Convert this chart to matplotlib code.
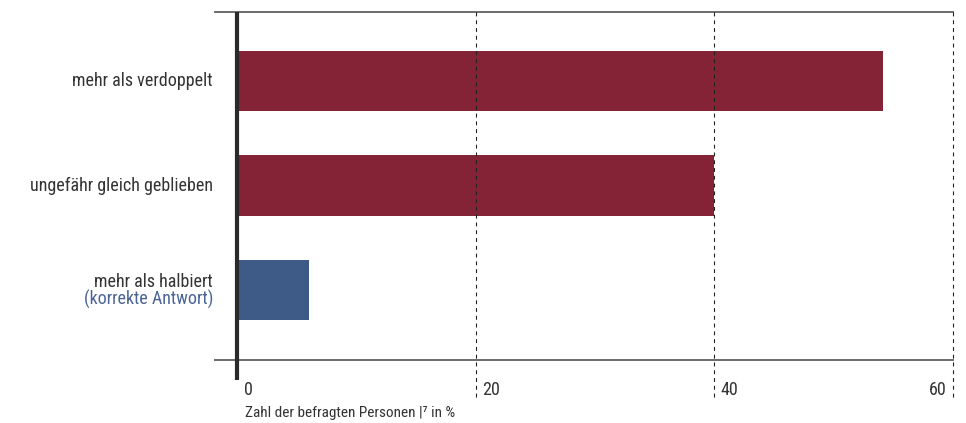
import matplotlib
matplotlib.use("Agg")
import matplotlib.pyplot as plt
from matplotlib import font_manager as fm

categories = ["mehr als verdoppelt", "ungefähr gleich geblieben", "mehr als halbiert"]
values = [54.1, 40.0, 6.0]
colors = ["#842236", "#842236", "#3e5a87"]
xticks = [0, 20, 40, 60]
xlabel = "Zahl der befragten Personen |⁷ in %"
note = "(korrekte Antwort)"

names = {f.name for f in fm.fontManager.ttflist}
fam = "DejaVu Sans"
stretch = "condensed"
for cand in ["Roboto Condensed", "Liberation Sans Narrow"]:
    if cand in names:
        fam = cand
        stretch = "normal"
        break
plt.rcParams["font.family"] = [fam, "DejaVu Sans"]
plt.rcParams["font.stretch"] = stretch

FS = 13
W, H = 966, 423
fig = plt.figure(figsize=(W / 100, H / 100), dpi=100)
L, R, T, B = 237, 953, 12, 360
ax = fig.add_axes([L / W, 1 - B / H, (R - L) / W, (B - T) / H])

pos = [2, 1, 0]
ax.barh(pos, values, height=0.58, color=colors, zorder=2)
ax.set_xlim(0, 60)
ax.set_ylim(-0.67, 2.66)
for s in ax.spines.values():
    s.set_visible(False)
ax.set_xticks([])
ax.set_yticks([])

tc = "#333333"
axw = R - L
axh = B - T
def ax_x(px):
    return (px - L) / axw
def ax_y(py):
    return (B - py) / axh

# top & bottom lines
for yv in [1, 0]:
    ax.plot([ax_x(215), 1.0], [yv, yv], transform=ax.transAxes, color="#6b6b6b",
            lw=1.4, clip_on=False, zorder=3)
# gridlines
for t in xticks[1:]:
    ax.plot([t, t], [1, ax_y(400)], color="#222222",
            lw=0.8, ls=(0, (3.5, 3.5)), clip_on=False, zorder=4,
            transform=ax.get_xaxis_transform())
# left spine
ax.plot([0, 0], [1, ax_y(380)], transform=ax.transAxes, color="#2a2a2a", lw=3,
        clip_on=False, zorder=5, solid_capstyle="butt")

# tick labels
for t in xticks:
    if t == xticks[-1]:
        ax.text(t - 0.55, ax_y(390), str(t), ha="right", va="center", fontsize=FS,
                color=tc, transform=ax.get_xaxis_transform())
    else:
        ax.text(t + 0.55, ax_y(390), str(t), ha="left", va="center", fontsize=FS,
                color=tc, transform=ax.get_xaxis_transform())
ax.text(ax_x(245), ax_y(413), xlabel, ha="left", va="center", fontsize=11,
        color=tc, transform=ax.transAxes)

# category labels
for p, c in zip(pos, categories):
    if p == 0:
        ax.text(ax_x(213), p + 0.075, c, ha="right", va="center", fontsize=FS,
                color=tc, transform=ax.get_yaxis_transform())
        ax.text(ax_x(213), p - 0.095, note, ha="right", va="center", fontsize=FS,
                color="#4a6496", transform=ax.get_yaxis_transform())
    else:
        ax.text(ax_x(213), p, c, ha="right", va="center", fontsize=FS,
                color=tc, transform=ax.get_yaxis_transform())

fig.savefig("out.png", dpi=100)
